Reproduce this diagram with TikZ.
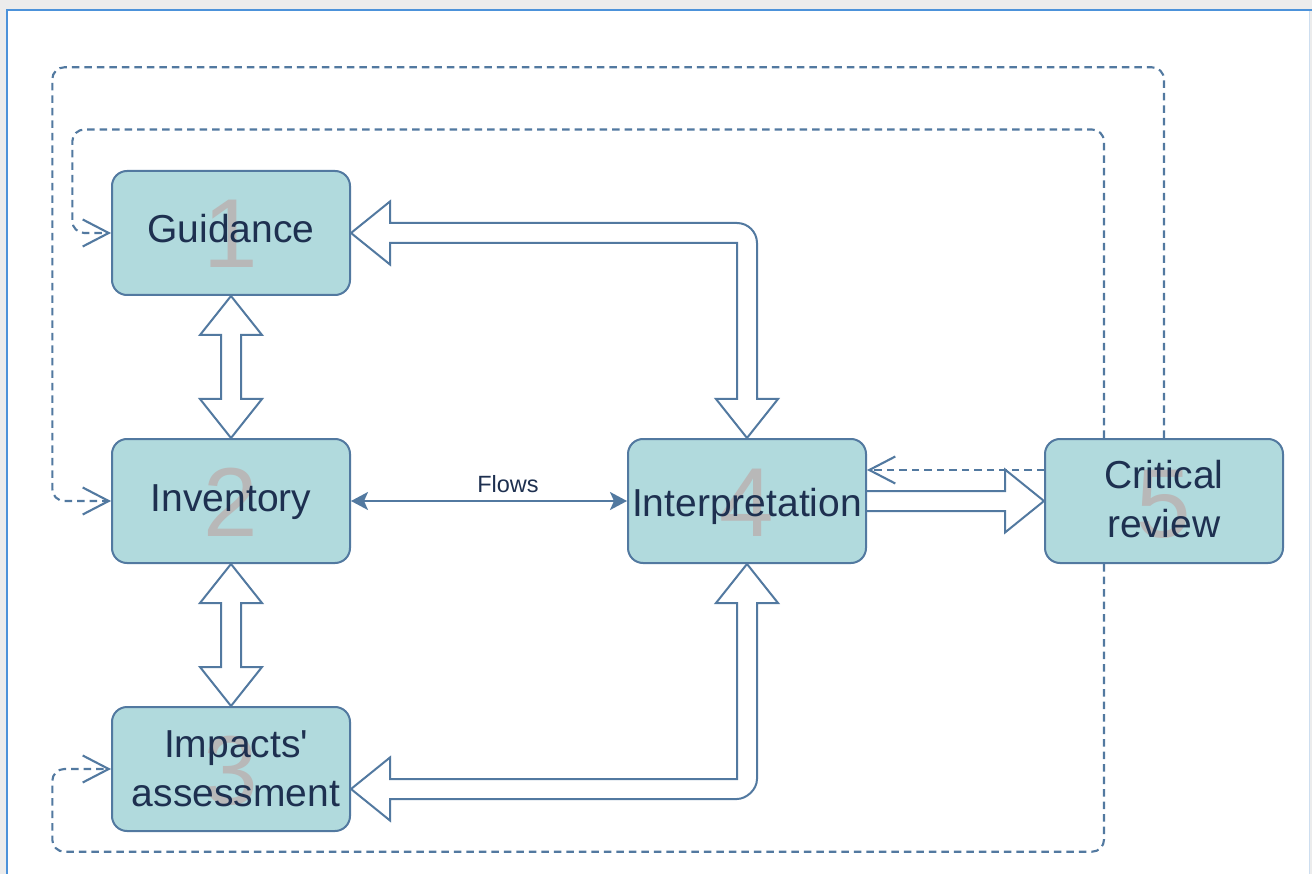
\documentclass[tikz,border=0pt]{standalone}
\usepackage{fontspec}
\setmainfont{Liberation Sans}[Ligatures=TeXOff]
\usetikzlibrary{calc,arrows.meta}
\pgfdeclarelayer{page}
\pgfdeclarelayer{links}
\pgfsetlayers{page,links,main}

\definecolor{pagegray}{RGB}{236,236,236}
\definecolor{framebl}{RGB}{76,146,218}
\definecolor{framelt}{RGB}{205,222,240}
\definecolor{edge}{RGB}{82,121,160}
\definecolor{boxfill}{RGB}{177,218,221}
\definecolor{ink}{RGB}{30,48,80}
\definecolor{digitgray}{RGB}{184,184,184}

\begin{document}
\begin{tikzpicture}[x=1pt,y=-1pt,
  stage/.style={draw=edge, fill=boxfill, line width=2pt, rounded corners=15pt,
    minimum width=238pt, minimum height=124pt, inner sep=0pt},
  ordinal/.style={text=digitgray, font=\fontsize{98}{98}\selectfont, inner sep=0pt, anchor=base},
  caption/.style={text=ink, font=\fontsize{39}{49}\selectfont, inner sep=0pt, anchor=base},
  smallcap/.style={text=ink, font=\fontsize{23.5}{28}\selectfont, inner sep=0pt, anchor=base},
  bigarrow/.style={draw=edge, fill=white, line width=2pt, line join=miter},
  feedback/.style={draw=edge, line width=2.1pt, dash pattern=on 7.5pt off 5pt,
    rounded corners=12pt, -{Straight Barb[length=26pt,width=27pt]}},
  flow/.style={draw=edge, line width=2pt,
    {Stealth[length=17pt,width=18pt,inset=4pt]}-{Stealth[length=17pt,width=18pt,inset=4pt]}},
]
\useasboundingbox (0,0) rectangle (1312,874);

% window frame
\begin{pgfonlayer}{page}
  \fill[pagegray] (0,0) rectangle (1312,874);
  \fill[white] (7,10) rectangle (1309,874);
  \draw[framelt, line width=1pt] (1309,10) -- (1309,874);
  \draw[framebl, line width=2pt] (7,874) -- (7,10) -- (1312,10);
\end{pgfonlayer}

% stages
\node[stage] (g) at (231,233) {};
\node[stage] (inv) at (231,501) {};
\node[stage] (imp) at (231,769) {};
\node[stage] (interp) at (747,501) {};
\node[stage] (cr) at (1164,501) {};

% step numbers behind the captions
\node[ordinal] (n1) at ($(g.center)+(0,35)$) {1};
\node[ordinal] (n2) at ($(inv.center)+(0,35)$) {2};
\node[ordinal] (n3) at ($(imp.center)+(0,35)$) {3};
\node[ordinal] (n4) at ($(interp.center)+(0,35)$) {4};
\node[ordinal] (n5) at ($(cr.center)+(0,36)$) {5};

% captions
\node[caption] (t1) at ($(g.center)+(0,10)$) {Guidance};
\node[caption] (t2) at ($(inv.center)+(0,10.5)$) {Inventory};
\node[caption] (t3) at ($(imp.center)+(5,-12)$) {\begin{tabular}[t]{@{}c@{}}Impacts'\\assessment\end{tabular}};
\node[caption] (t4) at ($(interp.center)+(0,15.5)$) {Interpretation};
\node[caption] (t5) at ($(cr.center)+(0,-12.7)$) {\begin{tabular}[t]{@{}c@{}}Critical\\review\end{tabular}};

\node[smallcap] (flowslbl) at ($(inv.east)!0.5!(interp.west)+(19,-8.5)$) {Flows};

\begin{pgfonlayer}{links}
  % Guidance <-> Inventory
  \draw[bigarrow] (g.south) -- ++(31,39) -- ++(-21,0) -- ($(inv.north)+(10,-39)$)
    -- ++(21,0) -- (inv.north) -- ++(-31,-39) -- ++(21,0) -- ($(g.south)+(-10,39)$)
    -- ++(-21,0) -- cycle;
  % Inventory <-> Impacts' assessment
  \draw[bigarrow] (inv.south) -- ++(31,39) -- ++(-21,0) -- ($(imp.north)+(10,-39)$)
    -- ++(21,0) -- (imp.north) -- ++(-31,-39) -- ++(21,0) -- ($(inv.south)+(-10,39)$)
    -- ++(-21,0) -- cycle;
  % Guidance <-> Interpretation
  \coordinate (kt) at (interp.north |- g.east);
  \draw[bigarrow] (g.east) -- ++(39,-31.5) -- ++(0,21.5) -- ($(kt)+(-10,-10)$)
    .. controls ($(kt)+(1,-10)$) and ($(kt)+(10,-1)$) .. ($(kt)+(10,10)$)
    -- ($(interp.north)+(10,-39)$) -- ++(21,0) -- (interp.north) -- ++(-31,-39)
    -- ++(21,0) -- ($(kt)+(-10,10)$) -- ($(g.east)+(39,10)$) -- ++(0,21.5) -- cycle;
  % Impacts' assessment <-> Interpretation
  \coordinate (ie) at ($(imp.east)+(0,20)$);
  \coordinate (kb) at (interp.south |- ie);
  \draw[bigarrow] (ie) -- ++(39,-31.5) -- ++(0,21.5) -- ($(kb)+(-10,-10)$)
    -- ($(interp.south)+(-10,39)$) -- ++(-21,0) -- (interp.south) -- ++(31,39)
    -- ++(-21,0) -- ($(kb)+(10,-10)$)
    .. controls ($(kb)+(10,1)$) and ($(kb)+(-1,10)$) .. ($(kb)+(-10,10)$)
    -- ($(ie)+(39,10)$) -- ++(0,21.5) -- cycle;
  % Interpretation -> Critical review
  \draw[bigarrow] ($(interp.east)+(0,-10)$) -- ($(cr.west)+(-39,-10)$) -- ++(0,-21.5)
    -- (cr.west) -- ++(-39,31.5) -- ++(0,-21.5) -- ($(interp.east)+(0,10)$);

  % flows between inventory and interpretation
  \draw[flow] (inv.east) -- (interp.west);

  % review feedback loops
  \coordinate (oc) at (52.3,67.3);
  \coordinate (ic) at (72.3,129.5);
  \coordinate (bc) at (52.3,851.7);
  \draw[feedback] (cr.north) |- (oc) |- (inv.west);
  \draw[feedback] ($(cr.north)+(-60,0)$) |- (ic) |- (g.west);
  \draw[feedback] ($(cr.south)+(-60,0)$) |- (bc) |- (imp.west);
  \draw[feedback, rounded corners=0pt] ($(cr.west)+(0,-31)$) -- ($(interp.east)+(0,-31)$);
\end{pgfonlayer}
\end{tikzpicture}
\end{document}
